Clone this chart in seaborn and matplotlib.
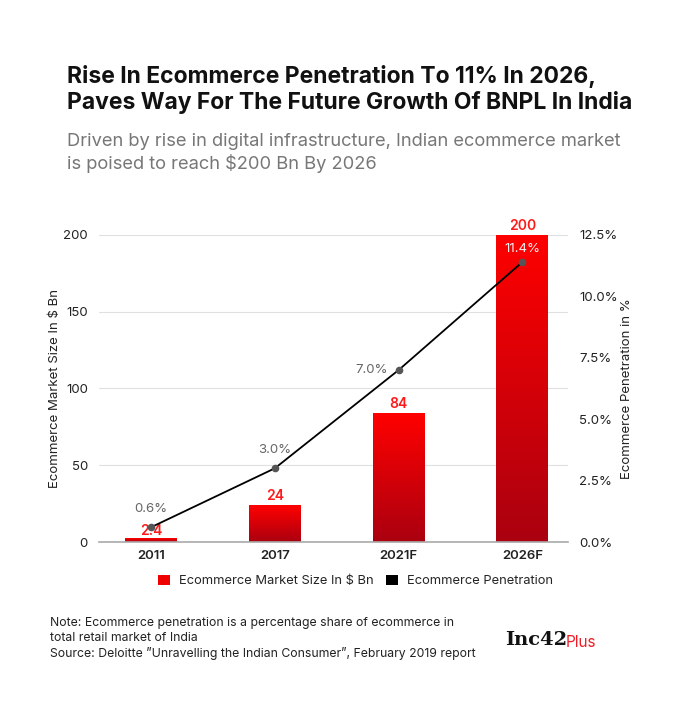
import numpy as np
import matplotlib
matplotlib.use("Agg")
import matplotlib.pyplot as plt
import seaborn as sns
from matplotlib.colors import LinearSegmentedColormap
from matplotlib.patches import Patch

categories = ["2011", "2017", "2021F", "2026F"]
market_size = [2.4, 24, 84, 200]
penetration = [0.6, 3.0, 7.0, 11.4]
left_ticks = [0, 50, 100, 150, 200]
right_ticks = [0.0, 2.5, 5.0, 7.5, 10.0, 12.5]

sns.set_theme(style="white")
FONT = ["Inter", "DejaVu Sans"]
plt.rcParams["font.family"] = FONT

fig = plt.figure(figsize=(6.9, 7.05), dpi=100)
ax = fig.add_axes([0.1435, 0.2312, 0.680, 0.4355])

sns.barplot(x=categories, y=market_size, ax=ax, width=0.42, color="red", saturation=1)

cmap = LinearSegmentedColormap.from_list("g", ["#aa0010", "#ff0000"])
grad = np.linspace(0, 1, 256).reshape(-1, 1)
for p in list(ax.patches):
    x, y = p.get_x(), p.get_y()
    w, h = p.get_width(), p.get_height()
    p.set_facecolor("none")
    p.set_edgecolor("none")
    ax.imshow(grad, extent=[x, x + w, y, y + h], origin="lower", aspect="auto",
              cmap=cmap, zorder=2)

ax.set_xlim(-0.42, 3.37)
ax.set_ylim(0, 200)
ax.set_yticks(left_ticks)
ax.set_yticklabels([str(t) for t in left_ticks], fontsize=9.5, color="#222")
ax.tick_params(axis="x", labelsize=9.5, colors="#222", length=0, pad=6)
ax.tick_params(axis="y", length=0, pad=8)
for t in ax.get_xticklabels():
    t.set_fontweight("semibold")
ax.yaxis.grid(True, color="#e0e0e0", linewidth=0.8)
ax.set_axisbelow(True)
for s in ["top", "right", "left"]:
    ax.spines[s].set_visible(False)
ax.spines["bottom"].set_color("#aaaaaa")
ax.spines["bottom"].set_linewidth(1.2)
ax.set_ylabel("Ecommerce Market Size In $ Bn", fontsize=9.5, color="#222", labelpad=2)
ax.set_xlabel("")

for i, v in enumerate(market_size):
    lbl = f"{v:g}"
    ax.text(i, v + (1.5 if v > 5 else 0.2), lbl, ha="center", va="bottom",
            color="#ff1a1a", fontsize=10, fontweight="semibold", zorder=5)

ax2 = ax.twinx()
sns.pointplot(x=categories, y=penetration, ax=ax2, color="black", markers="o",
              markersize=4.5, linewidth=1.3)
for ln in ax2.lines:
    ln.set_markerfacecolor("#555555")
    ln.set_markeredgecolor("#555555")
ax2.set_ylim(0, 12.5)
ax2.set_xlim(-0.42, 3.37)
ax2.set_yticks(right_ticks)
ax2.set_yticklabels([f"{t:.1f}%" for t in right_ticks], fontsize=9.5, color="#222")
ax2.tick_params(axis="y", length=0, pad=8)
ax2.grid(False)
for s in ["top", "right", "left", "bottom"]:
    ax2.spines[s].set_visible(False)
ax2.set_ylabel("Ecommerce Penetration in %", fontsize=9.5, color="#222", labelpad=2)
ax2.set_xlabel("")

offsets = [(0, 9, "center"), (0, 9, "center"), (-8, 0, "right"), (0, 5, "center")]
for i, v in enumerate(penetration):
    dx, dy, ha = offsets[i]
    col = "#f0f0f0" if i == 3 else "#666666"
    ax2.annotate(f"{v:.1f}%", (i, v), xytext=(dx, dy), textcoords="offset points",
                 ha=ha, va="bottom" if dy else "center", color=col, fontsize=9.5)

fig.text(0.097, 0.908, "Rise In Ecommerce Penetration To 11% In 2026,\nPaves Way For The Future Growth Of BNPL In India",
         fontsize=16.5, fontweight="bold", color="#111", va="top", linespacing=1.2)
fig.text(0.097, 0.811, "Driven by rise in digital infrastructure, Indian ecommerce market\nis poised to reach $200 Bn By 2026",
         fontsize=13.2, color="#777", va="top", linespacing=1.25)

handles = [Patch(facecolor="#ee0000", edgecolor="none"), Patch(facecolor="black", edgecolor="none")]
fig.legend(handles, ["Ecommerce Market Size In $ Bn", "Ecommerce Penetration"],
           loc="center", bbox_to_anchor=(0.515, 0.176), ncol=2, frameon=False,
           fontsize=9.3, handlelength=0.9, handleheight=0.9, columnspacing=1.0,
           handletextpad=0.7)

fig.text(0.072, 0.125, "Note: Ecommerce penetration is a percentage share of ecommerce in\ntotal retail market of India\nSource: Deloitte \u201dUnravelling the Indian Consumer\u201d, February 2019 report",
         fontsize=8.8, color="#222", va="top", linespacing=1.3)
fig.text(0.732, 0.092, "Inc42", fontsize=14, fontweight="bold", family="DejaVu Serif",
         color="#111", va="center")
fig.text(0.820, 0.088, "Plus", fontsize=11, color="#ee1c25", va="center")

fig.savefig("out.png", dpi=100, facecolor="white")
